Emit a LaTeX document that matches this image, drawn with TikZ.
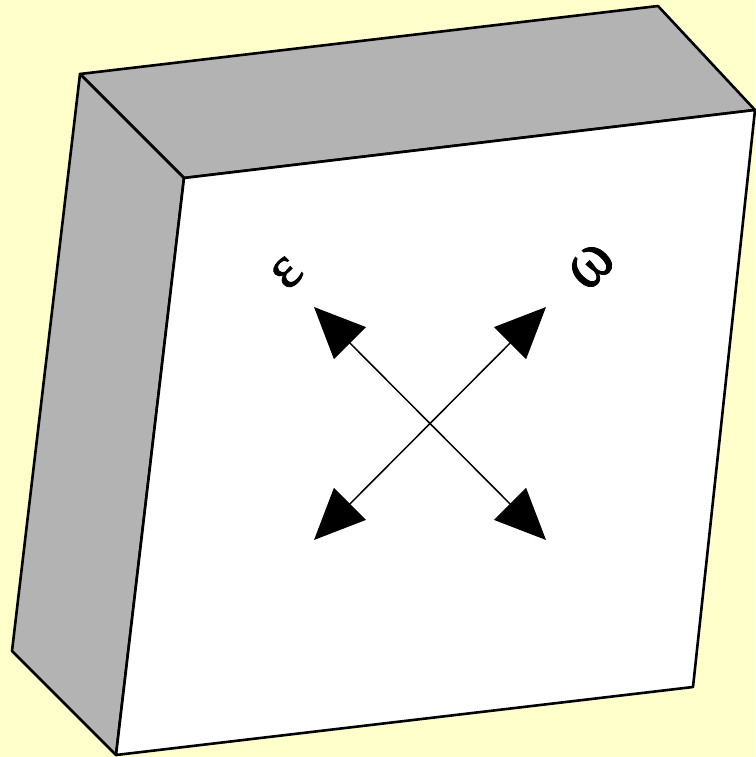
\documentclass[tikz,border=0pt]{standalone}
\usepackage{fontspec}
\setmainfont{Liberation Serif}
\newfontfamily\gkfont[FakeBold=1.2]{Liberation Serif}
\usetikzlibrary{arrows.meta}
\definecolor{paper}{HTML}{FFFFCC}
\definecolor{side}{HTML}{B3B3B3}
\tikzset{
  face/.style={draw=black,line width=2.6pt,line join=round},
  dirarrow/.style={line width=1.5pt,-{Triangle[length=51pt,width=45pt]},shorten <=0pt},
  greek/.style={font=\gkfont\fontsize{60}{60}\selectfont,inner sep=0pt,rotate=45}
}
\begin{document}
\begin{tikzpicture}[x=1pt,y=-1pt]
\useasboundingbox (0,0) rectangle (755,757);
\fill[paper] (0,0) rectangle (755,757);
\coordinate (A) at (80,74);
\coordinate (B) at (658,6);
\coordinate (C) at (755,110);
\coordinate (D) at (184,178);
\coordinate (E) at (116,755);
\coordinate (F) at (693,687);
\coordinate (G) at (12,651);
\coordinate (O) at (430,423.5);
\coordinate (NW) at (314,307);
\coordinate (NE) at (546,307);
\coordinate (SW) at (314,540);
\coordinate (SE) at (546,540);
\filldraw[face,fill=side] (A)--(B)--(C)--(D)--cycle;
\filldraw[face,fill=side] (A)--(D)--(E)--(G)--cycle;
\filldraw[face,fill=white] (D)--(C)--(F)--(E)--cycle;
\draw[dirarrow] (O)--(NW);
\draw[dirarrow] (O)--(NE);
\draw[dirarrow] (O)--(SW);
\draw[dirarrow] (O)--(SE);
\node[greek] (eps) at (287,273) {ε};
\node[greek] (om) at (591,266) {\scalebox{1.08}[1.2]{ω}};
\end{tikzpicture}
\end{document}
